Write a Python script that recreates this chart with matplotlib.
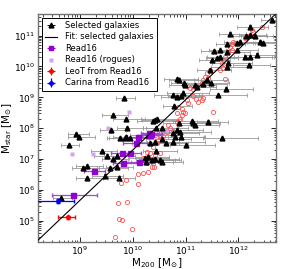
import numpy as np
import matplotlib
matplotlib.use("Agg")
import matplotlib.pyplot as plt
from matplotlib.lines import Line2D

# ---------------- data (log10 values) ----------------
sel_logM200 = [12.63,12.22,11.84,12.14,12.22,12.31,12.03,11.97,12.41,12.47,
               11.78,11.54,11.65,11.78,11.97,11.50,11.59,11.65,11.80,12.13,
               12.22,12.35,12.20,11.46,11.78,10.84,10.88,10.97,10.99,11.18,
               11.22,11.33,11.41,11.48,11.77,11.61,10.76,10.84,10.91,10.95,
               10.78,10.46,11.42,11.18,10.89,10.76,
               9.84,9.62,9.88,9.90,9.58,8.92,8.98,8.79,10.39,11.12,
               10.88,10.45,10.55,10.29,10.83,10.43,11.15,10.80,10.91,11.70,
               10.55,10.64,10.77,11.01,10.42,10.33,10.44,10.42,10.55,10.26,
               9.41,9.51,9.62,9.70,9.06,9.13,9.57,9.70,9.13,9.47,9.74,8.65,
               9.76,9.85,9.88,9.95,10.23,10.29,10.36,10.52]
sel_logMstar = [11.49,11.29,11.06,10.97,11.02,10.99,10.80,10.76,10.80,10.76,
                10.73,10.50,10.54,10.47,10.54,10.21,10.28,10.31,10.12,10.31,
                10.31,10.38,10.05,9.89,9.99,9.60,9.57,9.47,9.40,9.40,
                9.34,9.44,9.57,9.47,9.28,9.08,9.08,9.02,9.05,9.15,
                8.72,8.30,8.21,8.11,7.88,7.85,
                8.97,8.43,8.29,8.00,7.93,7.81,7.71,7.44,8.22,8.22,
                8.17,8.00,8.00,7.79,7.95,8.27,8.17,7.73,7.73,7.68,
                7.65,7.52,7.54,7.44,7.54,7.52,7.25,7.00,6.92,6.92,
                7.25,7.11,7.00,7.11,6.71,6.76,6.71,6.74,6.39,6.46,6.40,5.74,
                7.68,7.68,7.73,7.68,7.03,7.08,6.98,6.98]
sel_err_lo = [0.20,0.25,0.20,0.25,0.20,0.25,0.30,0.20,0.25,0.20,
              0.20,0.25,0.20,0.30,0.20,0.25,0.20,0.25,0.30,0.35,
              0.30,0.25,0.30,0.25,0.30,0.25,0.20,0.25,0.30,0.25,
              0.20,0.30,0.25,0.20,0.30,0.35,0.35,0.30,0.25,0.30,
              0.20,0.30,0.21,0.30,0.35,0.30,
              0.15,0.20,0.25,0.20,0.20,0.15,0.20,0.15,0.30,0.35,
              0.30,0.25,0.30,0.35,0.30,0.25,0.30,0.30,0.25,0.37,
              0.30,0.25,0.35,0.30,0.30,0.35,0.25,0.30,0.25,0.30,
              0.20,0.25,0.20,0.25,0.20,0.20,0.25,0.20,0.20,0.25,0.20,0.15,
              0.25,0.30,0.25,0.20,0.30,0.25,0.30,0.25]
sel_err_hi = [0.30,0.35,0.30,0.40,0.30,0.35,0.40,0.35,0.30,0.30,
              0.35,0.30,0.35,0.45,0.40,0.35,0.40,0.35,0.45,0.50,
              0.45,0.35,0.40,0.40,0.45,0.40,0.35,0.45,0.50,0.40,
              0.35,0.45,0.40,0.35,0.50,0.55,0.55,0.45,0.40,0.50,
              0.35,0.45,0.39,0.45,0.60,0.50,
              0.20,0.30,0.35,0.30,0.30,0.25,0.30,0.20,0.45,0.50,
              0.55,0.40,0.50,0.55,0.50,0.40,0.50,0.55,0.45,0.67,
              0.55,0.40,0.60,0.55,0.45,0.55,0.40,0.45,0.40,0.50,
              0.30,0.35,0.30,0.35,0.30,0.30,0.35,0.30,0.30,0.35,0.30,0.20,
              0.40,0.45,0.40,0.35,0.45,0.40,0.45,0.40]

red_logM200 = [12.45,12.26,12.28,12.16,12.13,11.90,11.88,11.94,11.84,11.88,
               11.80,11.75,11.71,11.69,11.71,11.65,11.46,11.41,11.37,11.42,
               11.33,11.31,11.14,11.75,11.08,11.14,11.20,11.23,11.31,11.33,
               11.05,11.03,10.93,10.99,10.93,10.84,11.52,10.89,10.84,10.67,
               10.70,10.76,10.84,10.65,10.57,10.52,10.86,10.95,10.42,10.48,
               10.46,10.38,10.33,10.29,10.42,10.52,10.27,10.38,10.19,10.14,
               10.27,10.10,10.19,10.29,10.36,10.40,9.87,9.78,10.10,9.72,
               9.89,9.74,9.80,9.98,9.66]
red_logMstar = [11.28,11.18,11.12,10.99,10.93,10.80,10.73,10.76,10.63,10.54,
                10.47,10.31,10.21,10.12,9.95,9.89,9.89,9.79,9.66,9.63,
                9.57,9.47,9.28,9.60,9.31,9.05,8.95,8.85,8.92,8.98,
                8.82,8.92,8.63,8.50,8.43,8.50,8.53,8.30,8.21,8.11,
                8.01,7.92,7.85,7.88,7.75,7.75,8.69,8.53,7.79,7.62,
                7.53,7.40,7.20,7.08,7.14,7.20,6.88,6.88,7.04,6.91,
                7.24,6.52,6.56,6.59,6.75,6.75,6.33,6.23,6.20,5.59,
                5.62,5.07,5.04,4.75,4.49]

read_logM200 = [10.30,10.35,10.33,10.10,10.07,9.95,9.79,9.82,10.12,9.27,8.87]
read_logMstar = [7.86,7.82,7.78,7.73,7.52,7.19,7.19,6.87,6.92,6.60,5.82]
read_err_lo = [0.15,0.15,0.15,0.20,0.25,0.15,0.20,0.20,0.25,0.20,0.40]
read_err_hi = [0.20,0.20,0.20,0.20,0.20,0.20,0.20,0.30,0.25,0.20,0.46]

rogue_logM200 = [9.93,9.54,8.86,9.25,9.60,10.64]
rogue_logMstar = [8.54,8.00,7.17,7.17,6.98,7.94]

leot_logM200, leot_logMstar = 8.78, 5.11
leot_err = (0.19, 0.13)
carina_logM200, carina_logMstar = 8.59, 5.65
carina_err = (0.50, 0.30)

fit_slope, fit_intercept = 1.628, -8.99   # log Mstar = a*log M200 + b

# ---------------- plot ----------------
fig = plt.figure(figsize=(2.87, 2.69), dpi=100)
ax = fig.add_axes([0.133, 0.100, 0.828, 0.847])
ax.set_xscale('log'); ax.set_yscale('log')

def P(v):
    return 10 ** np.asarray(v, dtype=float)

def xerr(x, lo, hi):
    x = np.asarray(x, dtype=float)
    return [P(x) - P(x - np.asarray(lo)), P(x + np.asarray(hi)) - P(x)]

def yerr(y, d):
    y = np.asarray(y, dtype=float)
    return [P(y) - P(y - d), P(y + d) - P(y)]

ax.errorbar(P(sel_logM200), P(sel_logMstar),
            xerr=xerr(sel_logM200, sel_err_lo, sel_err_hi),
            fmt='none', ecolor='0.6', elinewidth=0.6, capsize=1.2, capthick=0.6, zorder=2)
ax.errorbar(P(sel_logM200), P(sel_logMstar), yerr=yerr(sel_logMstar, 0.04),
            fmt='^', color='k', ms=3.5, elinewidth=0.6, capsize=1.0, zorder=4)

ax.plot(P(red_logM200), P(red_logMstar), 'o', mfc='none', mec='#ff5050', ms=3.0, mew=0.6, zorder=3)

ax.plot(P(rogue_logM200), P(rogue_logMstar), 's', color='#d6a3ef', mec='none', ms=3.4, zorder=3)

ax.errorbar(P(read_logM200), P(read_logMstar),
            xerr=xerr(read_logM200, read_err_lo, read_err_hi),
            yerr=yerr(read_logMstar, 0.05),
            fmt='none', ecolor='#a04ad0', elinewidth=0.9, capsize=1.2, zorder=3)
ax.plot(P(read_logM200), P(read_logMstar), 's', color='#9400d3', ms=3.6, zorder=5)

ax.errorbar(P([leot_logM200]), P([leot_logMstar]),
            xerr=xerr([leot_logM200], [leot_err[0]], [leot_err[1]]),
            yerr=yerr([leot_logMstar], 0.06),
            fmt='D', color='red', ms=2.3, elinewidth=0.9, capsize=1.2, zorder=5)
ax.errorbar(P([carina_logM200]), P([carina_logMstar]),
            xerr=xerr([carina_logM200], [carina_err[0]], [carina_err[1]]),
            yerr=yerr([carina_logMstar], 0.06),
            fmt='D', color='blue', ms=2.3, elinewidth=0.9, capsize=1.2, zorder=5)

xl = np.array([8.0, 13.0])
ax.plot(P(xl), P(fit_slope * xl + fit_intercept), '-', color='k', lw=0.8, zorder=6)

ax.set_xlim(10**8.21, 10**12.71)
ax.set_ylim(10**4.31, 10**11.69)

ax.tick_params(which='both', direction='in', top=True, right=True, labelsize=6.5, pad=2)
ax.tick_params(which='major', length=3.5, width=0.6)
ax.tick_params(which='minor', length=1.8, width=0.5)
for s in ax.spines.values():
    s.set_color('0.45'); s.set_linewidth(1.0)

ax.set_xlabel(r'M$_{200}$ [M$_{\odot}$]', fontsize=7.5, labelpad=-0.5)
ax.set_ylabel(r'M$_{\rm star}$ [M$_{\odot}$]', fontsize=7.5, labelpad=0.5)

# legend handles
h1 = ax.errorbar([], [], xerr=[], fmt='^', color='k', ecolor='k', ms=3.5, capsize=1.2, elinewidth=0.7)
h2 = Line2D([], [], color='k', lw=0.8)
h3 = ax.errorbar([], [], xerr=[], fmt='s', color='#9400d3', ecolor='#9400d3', ms=3.5, capsize=1.2, elinewidth=0.9)
h4 = Line2D([], [], marker='s', ls='none', color='#d6a3ef', mec='none', ms=3.5)
h5 = ax.errorbar([], [], xerr=[], yerr=[], fmt='D', color='red', ms=2.3, capsize=1.2, elinewidth=0.9)
h6 = ax.errorbar([], [], xerr=[], yerr=[], fmt='D', color='blue', ms=2.3, capsize=1.2, elinewidth=0.9)
leg = ax.legend([h1, h2, h3, h4, h5, h6],
                ['Selected galaxies', 'Fit: selected galaxies', 'Read16', 'Read16 (rogues)',
                 'LeoT from Read16', 'Carina from Read16'],
                loc='upper left', fontsize=6.0, fancybox=False, edgecolor='k', framealpha=1,
                borderpad=0.4, labelspacing=0.3, handlelength=1.4, handletextpad=1.0,
                borderaxespad=0.4)
leg.get_frame().set_linewidth(0.7)

fig.savefig('out.png', dpi=100)
